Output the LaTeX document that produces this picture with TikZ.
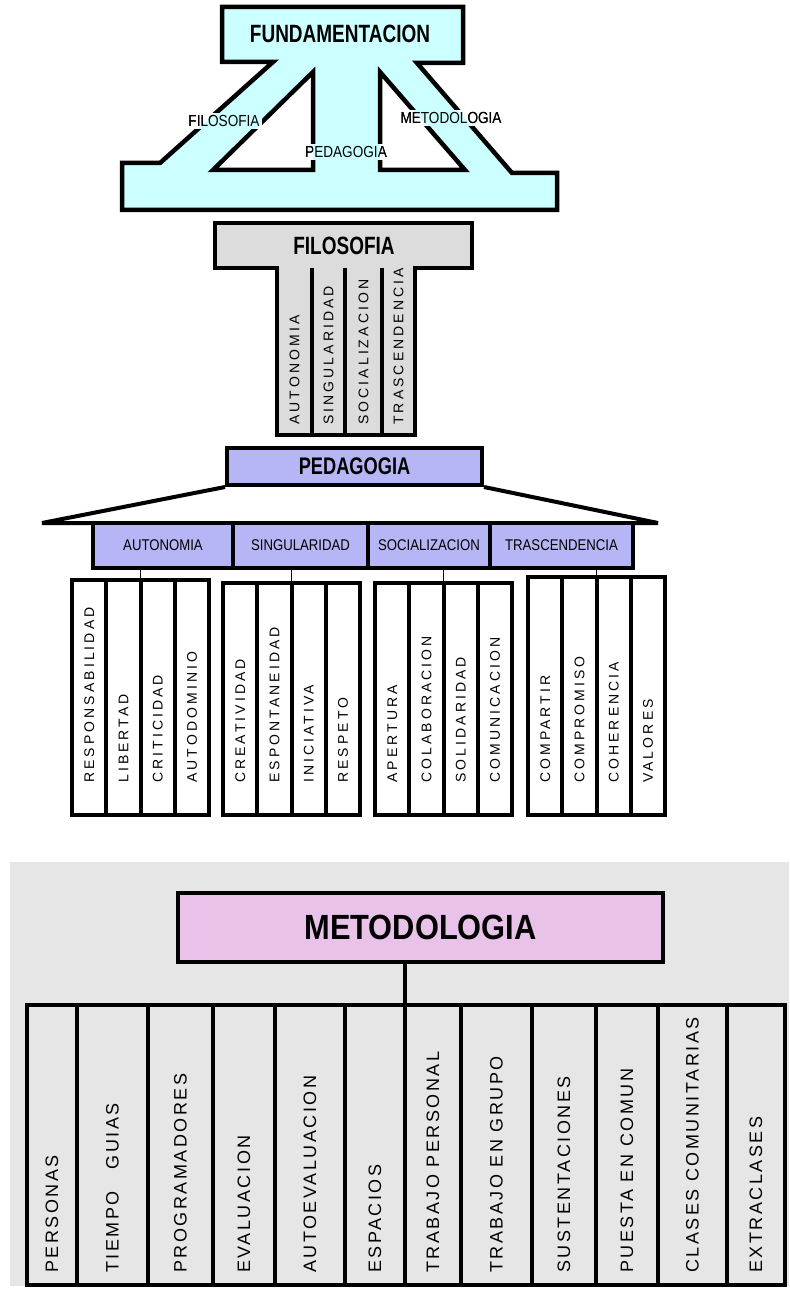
\documentclass[tikz,border=0pt]{standalone}
\usepackage{fontspec}
\setmainfont{Liberation Sans}
\newfontfamily\headfont[FakeStretch=0.76]{Liberation Sans}
\newfontfamily\metfont[FakeStretch=0.88]{Liberation Sans}
\newfontfamily\legfont[FakeStretch=0.85]{Liberation Sans}
\newfontfamily\colfont[LetterSpace=22]{Liberation Sans}
\newfontfamily\metcolfont[LetterSpace=14]{Liberation Sans}
\definecolor{FUNDcyan}{HTML}{CCFFFF}
\definecolor{FILOgray}{HTML}{DCDCDC}
\definecolor{PEDlav}{HTML}{B6B6F6}
\definecolor{METpink}{HTML}{E8C2E8}
\definecolor{BGgray}{HTML}{E6E6E6}
\usetikzlibrary{positioning}

\tikzset{
  outline/.style={line width=4.5pt, line join=miter},
  headtext/.style={inner sep=0pt, font=\headfont\bfseries\fontsize{25}{25}\selectfont},
  leglabel/.style={inner sep=2pt, font=\legfont\fontsize{16}{16}\selectfont},
  pedbox/.style={draw, line width=4pt, fill=PEDlav, minimum width=255pt, minimum height=37pt,
    font=\headfont\bfseries\fontsize{24}{24}\selectfont},
  subbox/.style={draw, line width=4pt, fill=PEDlav, minimum height=45pt,
    font=\legfont\fontsize{15.5}{16}\selectfont},
  metbox/.style={draw, line width=4.5pt, fill=METpink, minimum width=485pt, minimum height=69pt,
    font=\metfont\bfseries\fontsize{35}{35}\selectfont},
  vlabel/.style={rotate=90, anchor=west, inner sep=0pt, font=\colfont\fontsize{14}{14}\selectfont},
  blabel/.style={rotate=90, anchor=west, inner sep=0pt, font=\metcolfont\fontsize{18}{18}\selectfont},
  tick/.style={line width=1.2pt}
}

% outline of the top shape, with its two holes
\def\fundshape{(222,7) -- (463,7) -- (463,63) -- (417,63) -- (512,173) -- (557,173)
  -- (557,210) -- (122,210) -- (122,163) -- (160,163) -- (273,62) -- (222,62) -- cycle
  (313,72) -- (313,170) -- (213,170) -- cycle
  (380,72) -- (380,170) -- (465,170) -- cycle}

% label that breaks the outline under it
\newcommand{\fundlabel}[3]{%
  \node[leglabel, fill=white] (#1) at (#2) {#3};
  \begin{scope}
    \clip (#1.south west) rectangle (#1.north east);
    \fill[FUNDcyan, even odd rule] \fundshape;
  \end{scope}
  \node[leglabel] at (#1) {#3};}

\begin{document}
\begin{tikzpicture}[x=1pt, y=-1pt]
  \useasboundingbox (0,0) rectangle (789,1289);
  % Fundamentacion
  \fill[FUNDcyan, even odd rule] \fundshape;
  \draw[outline] \fundshape;
  \node[headtext] (fund) at (340,34) {FUNDAMENTACION};
  \fundlabel{lfilo}{224,121}{FILOSOFIA}
  \fundlabel{lped}{346,152}{PEDAGOGIA}
  \fundlabel{lmet}{451,118}{METODOLOGIA}
  % Filosofia
  \draw[outline, fill=FILOgray] (215,223) -- (472,223) -- (472,268) -- (415,268)
     -- (415,435) -- (277,435) -- (277,268) -- (215,268) -- cycle;
  \foreach \x in {312,345,382}
     \draw[line width=4pt] (\x,268) -- (\x,435);
  \node[headtext] (filo) at (344,246) {FILOSOFIA};
  \foreach \t/\x [count=\i] in {AUTONOMIA/294.5, SINGULARIDAD/328.5,
        SOCIALIZACION/363.5, TRASCENDENCIA/398.5}
     \node[vlabel] (f\i) at (\x,425) {\t};
  % Pedagogia
  \node[pedbox] (ped) at (354.5,466.5) {PEDAGOGIA};
  \draw[line width=4pt, line join=bevel] (ped.south west) -- (42,523) -- (658,523) -- (ped.south east);
  \node[subbox, minimum width=140pt] (sub1) at (163,545.5) {AUTONOMIA};
  \node[subbox, minimum width=135pt] (sub2) at (300.5,545.5) {SINGULARIDAD};
  \node[subbox, minimum width=122pt] (sub3) at (429,545.5) {SOCIALIZACION};
  \node[subbox, minimum width=143pt] (sub4) at (561.5,545.5) {TRASCENDENCIA};
  % value groups
  \foreach \gx/\gy/\grp [count=\g] in {
        72/580/{RESPONSABILIDAD,LIBERTAD,CRITICIDAD,AUTODOMINIO},
        223/583/{CREATIVIDAD,ESPONTANEIDAD,INICIATIVA,RESPETO},
        375/583/{APERTURA,COLABORACION,SOLIDARIDAD,COMUNICACION},
        528/577/{COMPARTIR,COMPROMISO,COHERENCIA,VALORES}} {
     \draw[line width=4.5pt, fill=white] (\gx,\gy) rectangle (\gx+137,815);
     \foreach \k in {1,2,3}
        \draw[line width=4pt] (\gx+34.25*\k,\gy) -- (\gx+34.25*\k,815);
     \foreach \t [count=\k] in \grp
        \node[vlabel] (g\g t\k) at (\gx+34.25*\k-17,783) {\t};
     \coordinate (g\g) at (\gx+68.5,\gy);
     \draw[tick] (g\g) -- (g\g |- sub\g.south);
  }
  % Metodologia
  \fill[BGgray] (10,862) rectangle (789,1286);
  \node[metbox] (met) at (420.5,927.5) {METODOLOGIA};
  \coordinate (mj) at (405,1005);
  \draw[line width=4.5pt] (met.south -| mj) -- (mj);
  \foreach \l/\r/\t [count=\i] in {27/77/PERSONAS, 77/148/{TIEMPO\hspace{22pt}GUIAS},
        148/213/PROGRAMADORES, 213/275/EVALUACION, 275/345/AUTOEVALUACION,
        345/405/ESPACIOS, 405/461/TRABAJO PERSONAL, 461/532/TRABAJO EN GRUPO,
        532/596/SUSTENTACIONES, 596/658/PUESTA EN COMUN, 658/727/CLASES COMUNITARIAS,
        727/785/EXTRACLASES} {
     \draw[line width=4.5pt] (\l,1005) rectangle (\r,1285);
     \node[blabel] (c\i) at ({(\l+\r)/2},1273) {\t};
  }
\end{tikzpicture}
\end{document}
